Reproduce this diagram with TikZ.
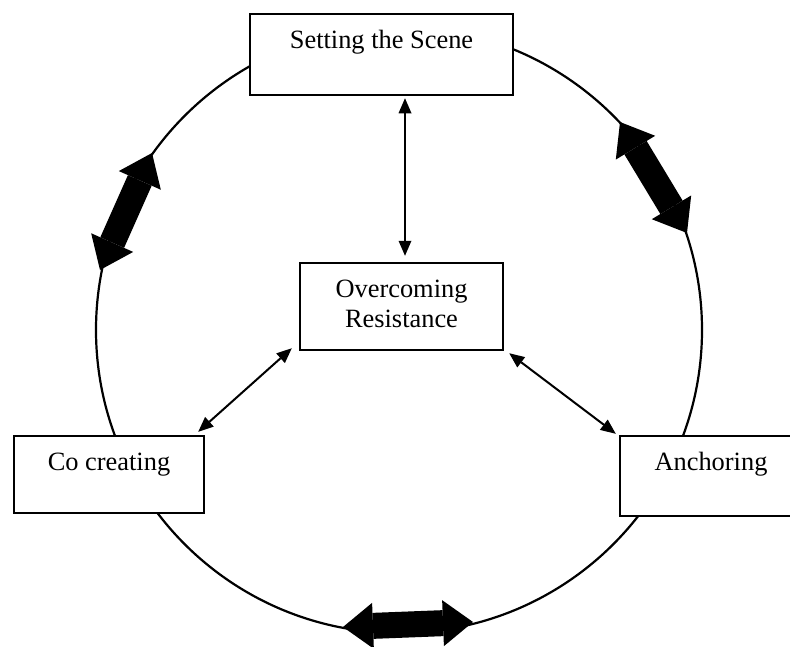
\documentclass[tikz,border=0pt]{standalone}
\usepackage{fontspec}
\setmainfont{Liberation Serif}
\usetikzlibrary{arrows.meta}
\begin{document}
\begin{tikzpicture}[x=1pt,y=-1pt,
  box/.style={draw=black, line width=2.5pt, fill=white, inner sep=0pt},
  lbl/.style={font=\fontsize{26.4}{30}\selectfont, inner sep=0pt, anchor=base, align=center},
  thin/.style={line width=2pt, {Triangle[length=15pt,width=13pt,line width=0pt]}-{Triangle[length=15pt,width=13pt,line width=0pt]}},
  fat/.style={line width=26pt, {Triangle[length=30pt,width=46pt,line width=0pt]}-{Triangle[length=30pt,width=46pt,line width=0pt]}}
]
\useasboundingbox[fill=white] (0,0) rectangle (790,646);
\node[draw, circle, line width=2.2pt, minimum size=606pt, inner sep=0pt] (ring) at (399,330) {};

\node[box, minimum width=263pt, minimum height=81pt] (set) at (381.5,54.5) {};
\node[lbl] (settxt) at ([yshift=-35.5pt]set.north) {Setting the Scene};
\node[box, minimum width=203pt, minimum height=87pt] (ov) at (401.5,306.5) {};
\node[lbl] (ovtxt) at ([yshift=-65.5pt]ov.north) {Overcoming\\Resistance};
\node[box, minimum width=190pt, minimum height=77pt] (co) at (109,474.5) {};
\node[lbl] (cotxt) at ([yshift=-35.5pt]co.north) {Co creating};
\node[box, minimum width=182pt, minimum height=80pt] (an) at (711,476) {};
\node[lbl] (antxt) at ([yshift=-35.5pt]an.north) {Anchoring};

\draw[thin] ([xshift=23.5pt,yshift=-2pt]set.south) -- ([xshift=3.5pt,yshift=6pt]ov.north);
\draw[thin] ([xshift=-7pt,yshift=3pt]ov.south west) -- ([xshift=-7pt,yshift=3pt]co.north east);
\draw[thin] ([xshift=5pt,yshift=-2pt]ov.south east) -- ([xshift=-3pt,yshift=1pt]an.north west);

\coordinate (l1) at (152,153); \coordinate (l2) at (100,270);
\coordinate (r1) at (620,122); \coordinate (r2) at (687,233);
\coordinate (b1) at (343,627); \coordinate (b2) at (473,622);
\draw[fat] (l1) -- (l2);
\draw[fat] (r1) -- (r2);
\draw[fat] (b1) -- (b2);
\end{tikzpicture}
\end{document}
